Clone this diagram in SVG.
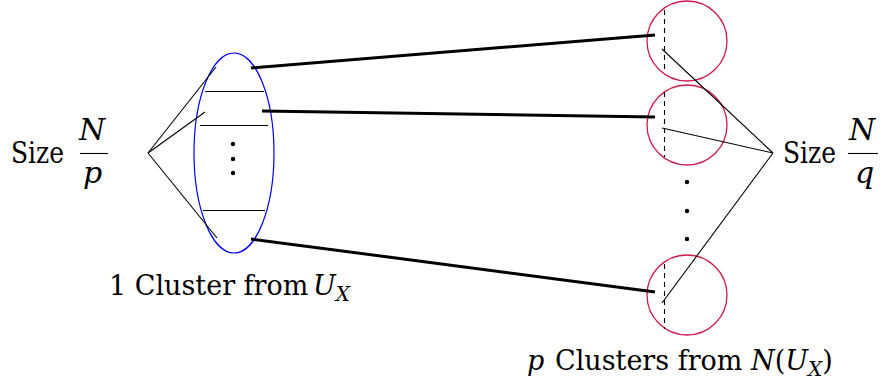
<svg xmlns="http://www.w3.org/2000/svg" width="883" height="385" viewBox="0 0 883 385">
<style>
text{font-family:'DejaVu Serif','Liberation Serif',serif;font-size:30px;fill:#000}
.lab{font-size:27px}
.it{font-style:italic}
.sub{font-style:italic;font-size:20px}
.thin{stroke:#000;stroke-width:1.1;fill:none}
.thick{stroke:#000;stroke-width:3;fill:none}
.clu{stroke:#cc1a4f;stroke-width:1.3;fill:none}
.dash{stroke:#000;stroke-width:1.1;stroke-dasharray:5,4}
</style>
<rect width="883" height="385" fill="#fff"/>
<g id="left-size">
<text x="11" y="163" textLength="53" lengthAdjust="spacingAndGlyphs">Size</text>
<text class="it" x="79" y="140">N</text>
<line class="thin" x1="80" y1="153.5" x2="108" y2="153.5"/>
<text class="it" x="83" y="183">p</text>
</g>
<g id="cluster-ux">
<ellipse cx="234" cy="153" rx="40" ry="100" fill="none" stroke="#0000ff" stroke-width="1.2"/>
<line class="thin" x1="205" y1="91.5" x2="264" y2="91.5"/>
<line class="thin" x1="200" y1="125.5" x2="268" y2="125.5"/>
<line class="thin" x1="203" y1="210.5" x2="265" y2="210.5"/>
<circle cx="233" cy="144" r="2.2"/>
<circle cx="233" cy="159" r="2.2"/>
<circle cx="233" cy="173" r="2.2"/>
<text class="lab" x="109" y="295">1 Cluster from<tspan class="it" x="313">U</tspan><tspan class="sub" dy="6">X</tspan></text>
</g>
<g id="cluster-1"><circle class="clu" cx="687" cy="41" r="40"/><line class="dash" x1="664.5" y1="10" x2="664.5" y2="73"/></g>
<g id="cluster-2"><circle class="clu" cx="687" cy="125" r="40"/><line class="dash" x1="664.5" y1="92" x2="664.5" y2="157"/></g>
<g id="cluster-p"><circle class="clu" cx="687" cy="295" r="40"/><line class="dash" x1="664.5" y1="264" x2="664.5" y2="329"/></g>
<g id="dots-right">
<circle cx="687" cy="182" r="2.2"/>
<circle cx="687" cy="211" r="2.2"/>
<circle cx="687" cy="239" r="2.2"/>
</g>
<g id="right-size">
<text x="783" y="163" textLength="53" lengthAdjust="spacingAndGlyphs">Size</text>
<text class="it" x="849" y="140">N</text>
<line class="thin" x1="848" y1="153.5" x2="878" y2="153.5"/>
<text class="it" x="855" y="183">q</text>
</g>
<g id="bottom-label">
<text class="lab" x="527" y="370"><tspan class="it">p</tspan><tspan x="555">Clusters from</tspan><tspan class="it" x="751">N</tspan>(<tspan class="it">U</tspan><tspan class="sub" dy="6">X</tspan><tspan dy="-6">)</tspan></text>
</g>
<g id="connectors">
<line class="thin" x1="148" y1="153" x2="216" y2="67"/>
<line class="thin" x1="148" y1="153" x2="205" y2="112"/>
<line class="thin" x1="148" y1="153" x2="217" y2="238"/>
<line class="thick" x1="251" y1="68" x2="655" y2="35"/>
<line class="thick" x1="262" y1="111" x2="655" y2="117"/>
<line class="thick" x1="251" y1="239" x2="655" y2="292"/>
<line class="thin" x1="773" y1="153" x2="662" y2="49"/>
<line class="thin" x1="773" y1="153" x2="662" y2="128"/>
<line class="thin" x1="773" y1="153" x2="662" y2="303"/>
</g>
</svg>
